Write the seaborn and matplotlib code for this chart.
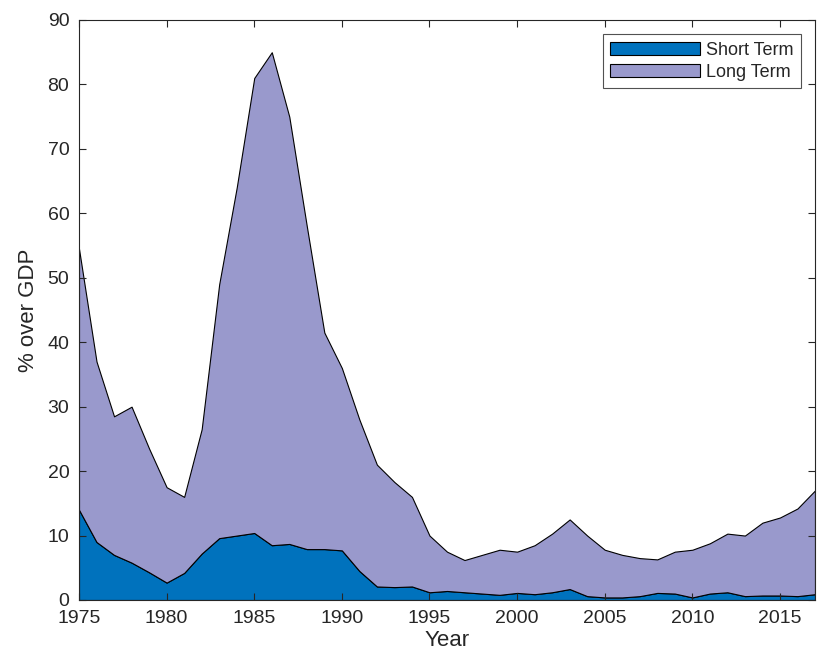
import matplotlib

matplotlib.use("Agg")

import matplotlib.pyplot as plt
import numpy as np
import seaborn as sns

years = list(range(1975, 2018))
total = [54.5, 37, 28.5, 30, 23.5, 17.5, 16, 26.5, 49, 64, 81, 85, 75, 58, 41.5, 36,
         28, 21, 18.3, 16, 10, 7.5, 6.2, 7, 7.8, 7.5, 8.5, 10.3, 12.5, 10, 7.8, 7,
         6.5, 6.3, 7.5, 7.8, 8.8, 10.3, 10, 12, 12.8, 14.2, 17]
short_term = [14, 9, 7, 5.8, 4.3, 2.7, 4.2, 7.2, 9.6, 10, 10.4, 8.5, 8.7, 7.9, 7.9, 7.7,
              4.5, 2.1, 2, 2.1, 1.2, 1.4, 1.2, 1, 0.8, 1.1, 0.9, 1.2, 1.7, 0.6, 0.4, 0.4,
              0.6, 1.1, 1, 0.4, 1, 1.2, 0.6, 0.7, 0.7, 0.6, 0.9]
long_term = list(np.array(total) - np.array(short_term))

sns.set_style("ticks")
plt.rcParams["font.family"] = ["Liberation Sans", "DejaVu Sans"]

fig = plt.figure(figsize=(8.17, 6.63), dpi=100)
ax = fig.add_axes([79 / 817, 1 - 600 / 663, (815 - 79) / 817, 580 / 663])
ax.stackplot(years, short_term, long_term, colors=["#0072BD", "#9999CC"],
             edgecolor="black", linewidth=0.8, labels=["Short Term", "Long Term"])
ax.set_axisbelow(False)
ax.set_xlim(1975, 2017)
ax.set_ylim(0, 90)
ax.set_xticks(range(1975, 2016, 5))
ax.set_yticks(range(0, 91, 10))
ax.tick_params(direction="in", labelsize=14, length=5, color="#262626",
               labelcolor="#262626", pad=7, top=True, right=True)
for s in ax.spines.values():
    s.set_visible(True)
    s.set_color("#262626")
    s.set_linewidth(0.8)
    s.set_zorder(5)
ax.set_xlabel("Year", fontsize=16, color="#262626", labelpad=2)
ax.set_ylabel("% over GDP", fontsize=16, color="#262626", labelpad=6)
leg = ax.legend(loc="upper right", fontsize=13, frameon=True, fancybox=False,
                edgecolor="#262626", borderaxespad=0.8, handlelength=5.0,
                handletextpad=0.3, labelspacing=0.3)
leg.get_frame().set_linewidth(0.8)
fig.savefig("out.png", dpi=100)
